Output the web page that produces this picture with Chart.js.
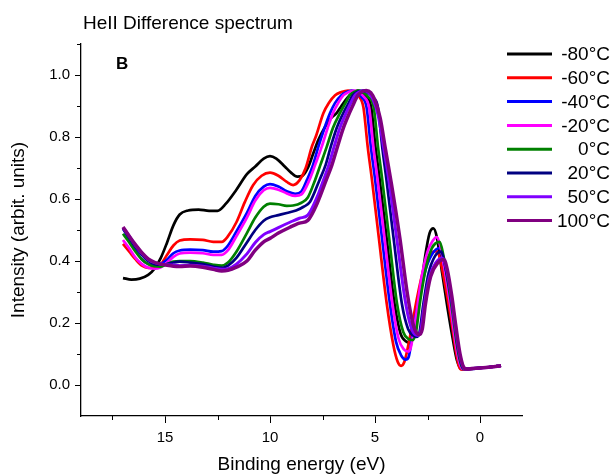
<!DOCTYPE html>
<html>
<head>
<meta charset="utf-8">
<script src="https://cdn.jsdelivr.net/npm/chart.js@4.4.1/dist/chart.umd.min.js"></script>
<style>
  html, body { margin: 0; padding: 0; background: #fff; }
</style>
</head>
<body>
<canvas id="spectrum" width="612" height="476"></canvas>
<script>
// temperatures shown in the legend (right aligned)
const seriesLabels = ['-80°C', '-60°C', '-40°C', '-20°C', '0°C', '20°C', '50°C', '100°C'];
const seriesColors = ['#000000', '#ff0000', '#0000ff', '#ff00ff', '#008000', '#000080', '#8000ff', '#800080'];

const xTicks = [15, 10, 5, 0];
const xMinorTicks = [17.5, 12.5, 7.5, 2.5];
const yTicks = [0, 0.2, 0.4, 0.6, 0.8, 1.0];
const yMinorTicks = [0.1, 0.3, 0.5, 0.7, 0.9, 1.1];

// [binding energy (eV), intensity]
const m80 = [[17.0,0.345],[16.6,0.34],[16.2,0.343],[15.8,0.355],[15.5,0.375],[15.2,0.41],[14.9,0.46],[14.6,0.515],[14.3,0.55],[13.9,0.563],[13.4,0.566],[12.9,0.562],[12.5,0.562],[12.1,0.585],[11.6,0.63],[11.1,0.68],[10.7,0.705],[10.3,0.73],[10.0,0.738],[9.7,0.73],[9.3,0.705],[9.0,0.685],[8.7,0.672],[8.45,0.675],[8.2,0.7],[7.95,0.745],[7.7,0.79],[7.4,0.83],[7.1,0.86],[6.83,0.877],[6.6,0.9],[6.3,0.928],[6.05,0.943],[5.82,0.95],[5.6,0.943],[5.43,0.93],[5.18,0.895],[4.98,0.77],[4.78,0.665],[4.45,0.476],[4.07,0.262],[3.78,0.165],[3.5,0.14],[3.35,0.137],[3.2,0.15],[3.0,0.23],[2.86,0.29],[2.6,0.42],[2.4,0.49],[2.22,0.505],[2.05,0.475],[1.8,0.36],[1.55,0.25],[1.3,0.15],[1.1,0.08],[0.95,0.055],[0.8,0.05],[0.4,0.052],[0.0,0.055],[-0.5,0.058],[-1.0,0.062]];
const m60 = [[17.0,0.455],[16.7,0.43],[16.4,0.405],[16.1,0.385],[15.8,0.378],[15.5,0.38],[15.2,0.39],[14.9,0.42],[14.6,0.45],[14.3,0.466],[13.8,0.47],[13.2,0.468],[12.7,0.462],[12.3,0.462],[12.0,0.48],[11.6,0.525],[11.2,0.59],[10.8,0.645],[10.4,0.675],[10.0,0.685],[9.6,0.675],[9.2,0.655],[8.9,0.645],[8.6,0.66],[8.3,0.7],[8.0,0.77],[7.8,0.805],[7.46,0.877],[7.2,0.91],[6.9,0.935],[6.6,0.945],[6.28,0.95],[5.97,0.945],[5.75,0.93],[5.55,0.895],[5.35,0.77],[5.15,0.665],[4.82,0.476],[4.44,0.262],[4.13,0.13],[3.92,0.075],[3.76,0.062],[3.6,0.075],[3.35,0.15],[3.0,0.28],[2.7,0.37],[2.4,0.42],[2.05,0.432],[1.85,0.39],[1.6,0.3],[1.35,0.2],[1.15,0.11],[1.0,0.06],[0.9,0.05],[0.4,0.052],[0.0,0.055],[-0.5,0.058],[-1.0,0.062]];
const m40 = [[17.0,0.505],[16.7,0.47],[16.4,0.435],[16.1,0.405],[15.8,0.39],[15.5,0.385],[15.2,0.39],[14.9,0.405],[14.6,0.425],[14.3,0.434],[13.8,0.437],[13.2,0.435],[12.7,0.43],[12.3,0.432],[12.0,0.45],[11.6,0.495],[11.1,0.555],[10.7,0.61],[10.3,0.64],[10.0,0.648],[9.6,0.64],[9.2,0.625],[8.8,0.617],[8.5,0.625],[8.25,0.66],[7.95,0.71],[7.7,0.768],[7.4,0.83],[7.14,0.877],[6.9,0.91],[6.6,0.935],[6.35,0.945],[6.1,0.95],[5.85,0.943],[5.65,0.93],[5.4,0.895],[5.2,0.77],[5.0,0.665],[4.67,0.476],[4.29,0.262],[4.0,0.14],[3.75,0.095],[3.55,0.082],[3.4,0.09],[3.2,0.17],[2.9,0.28],[2.6,0.37],[2.3,0.42],[1.92,0.442],[1.72,0.39],[1.45,0.28],[1.2,0.16],[1.0,0.08],[0.85,0.052],[0.4,0.052],[0.0,0.055],[-0.5,0.058],[-1.0,0.062]];
const m20 = [[17.0,0.468],[16.7,0.44],[16.4,0.41],[16.1,0.39],[15.8,0.378],[15.5,0.375],[15.2,0.38],[14.9,0.395],[14.6,0.413],[14.3,0.424],[13.8,0.427],[13.2,0.425],[12.7,0.42],[12.3,0.42],[12.0,0.435],[11.6,0.48],[11.1,0.54],[10.7,0.595],[10.3,0.628],[10.0,0.636],[9.6,0.63],[9.2,0.618],[8.8,0.61],[8.5,0.615],[8.13,0.66],[7.85,0.71],[7.54,0.768],[7.25,0.83],[7.0,0.877],[6.75,0.91],[6.5,0.935],[6.25,0.945],[6.0,0.95],[5.75,0.943],[5.53,0.93],[5.28,0.895],[5.08,0.77],[4.88,0.665],[4.55,0.476],[4.17,0.262],[3.88,0.15],[3.62,0.115],[3.43,0.108],[3.3,0.12],[3.05,0.22],[2.8,0.34],[2.5,0.43],[2.25,0.465],[2.06,0.477],[1.9,0.45],[1.65,0.36],[1.4,0.25],[1.15,0.13],[0.95,0.065],[0.8,0.052],[0.4,0.053],[0.0,0.055],[-0.5,0.058],[-1.0,0.062]];
const p0 = [[17.0,0.488],[16.7,0.46],[16.4,0.43],[16.1,0.405],[15.8,0.39],[15.5,0.383],[15.2,0.382],[14.9,0.39],[14.6,0.398],[14.3,0.40],[13.8,0.40],[13.2,0.395],[12.7,0.388],[12.3,0.385],[12.0,0.395],[11.6,0.43],[11.1,0.49],[10.7,0.54],[10.3,0.575],[10.0,0.585],[9.6,0.583],[9.2,0.578],[8.9,0.579],[8.5,0.588],[8.2,0.605],[7.86,0.66],[7.6,0.71],[7.3,0.768],[7.0,0.83],[6.67,0.877],[6.4,0.91],[6.2,0.935],[6.0,0.945],[5.78,0.95],[5.55,0.943],[5.33,0.93],[5.06,0.895],[4.86,0.77],[4.66,0.665],[4.33,0.476],[3.95,0.262],[3.65,0.17],[3.4,0.148],[3.2,0.145],[3.05,0.17],[2.85,0.27],[2.6,0.37],[2.3,0.44],[2.1,0.458],[1.92,0.462],[1.75,0.42],[1.5,0.32],[1.3,0.23],[1.1,0.13],[0.9,0.065],[0.75,0.052],[0.4,0.053],[0.0,0.055],[-0.5,0.058],[-1.0,0.062]];
const p20 = [[17.0,0.505],[16.7,0.475],[16.4,0.445],[16.1,0.42],[15.8,0.40],[15.5,0.39],[15.2,0.388],[14.9,0.39],[14.6,0.395],[14.3,0.398],[13.8,0.395],[13.2,0.39],[12.7,0.382],[12.3,0.378],[12.0,0.385],[11.6,0.41],[11.1,0.46],[10.7,0.5],[10.3,0.53],[10.0,0.541],[9.6,0.548],[9.2,0.555],[8.76,0.563],[8.4,0.575],[8.1,0.59],[7.65,0.66],[7.35,0.71],[7.11,0.768],[6.82,0.83],[6.51,0.877],[6.25,0.91],[6.05,0.935],[5.85,0.945],[5.6,0.95],[5.35,0.943],[5.13,0.93],[4.86,0.895],[4.66,0.77],[4.46,0.665],[4.12,0.476],[3.72,0.262],[3.42,0.18],[3.15,0.158],[3.0,0.155],[2.88,0.17],[2.7,0.26],[2.45,0.36],[2.15,0.415],[1.84,0.43],[1.68,0.39],[1.45,0.31],[1.25,0.22],[1.05,0.12],[0.85,0.06],[0.7,0.052],[0.4,0.053],[0.0,0.055],[-0.5,0.058],[-1.0,0.062]];
const p50 = [[17.0,0.508],[16.7,0.48],[16.4,0.45],[16.1,0.425],[15.8,0.405],[15.5,0.395],[15.2,0.39],[14.9,0.388],[14.6,0.387],[14.3,0.385],[13.8,0.386],[13.2,0.383],[12.7,0.377],[12.3,0.373],[12.0,0.375],[11.6,0.39],[11.1,0.423],[10.7,0.46],[10.3,0.485],[10.0,0.495],[9.6,0.508],[9.05,0.525],[8.6,0.538],[8.2,0.548],[7.76,0.606],[7.46,0.66],[7.2,0.71],[6.95,0.768],[6.67,0.83],[6.38,0.877],[6.15,0.91],[5.95,0.935],[5.75,0.945],[5.52,0.95],[5.3,0.943],[5.1,0.922],[4.85,0.87],[4.6,0.77],[4.35,0.665],[3.97,0.476],[3.58,0.28],[3.3,0.19],[3.1,0.163],[2.95,0.16],[2.82,0.175],[2.65,0.26],[2.4,0.35],[2.1,0.395],[1.8,0.41],[1.62,0.38],[1.4,0.3],[1.2,0.2],[1.0,0.11],[0.8,0.058],[0.68,0.052],[0.4,0.053],[0.0,0.055],[-0.5,0.058],[-1.0,0.062]];
const p100 = [[17.0,0.51],[16.7,0.48],[16.4,0.452],[16.1,0.427],[15.8,0.407],[15.5,0.396],[15.2,0.39],[14.9,0.386],[14.6,0.383],[14.3,0.382],[13.8,0.384],[13.2,0.38],[12.7,0.373],[12.3,0.368],[12.0,0.37],[11.6,0.38],[11.1,0.4],[10.7,0.435],[10.3,0.462],[10.0,0.473],[9.6,0.49],[9.05,0.509],[8.6,0.522],[8.2,0.531],[7.76,0.585],[7.33,0.66],[7.05,0.71],[6.79,0.768],[6.5,0.83],[6.22,0.877],[6.0,0.91],[5.82,0.935],[5.65,0.945],[5.42,0.95],[5.2,0.943],[5.0,0.918],[4.75,0.86],[4.5,0.76],[4.22,0.65],[3.82,0.476],[3.45,0.29],[3.2,0.2],[3.0,0.166],[2.88,0.163],[2.75,0.18],[2.6,0.26],[2.35,0.35],[2.0,0.395],[1.72,0.405],[1.55,0.37],[1.35,0.29],[1.15,0.19],[0.95,0.1],[0.75,0.055],[0.62,0.052],[0.4,0.053],[0.0,0.055],[-0.5,0.058],[-1.0,0.062]];

const seriesData = [m80, m60, m40, m20, p0, p20, p50, p100];
const lineWidths = [2.7, 2.7, 2.7, 2.7, 2.7, 2.7, 3, 3.5];

const FONT = "'Liberation Sans', Arial, sans-serif";

// title, panel letter, legend and minor ticks
const decorations = {
    id: 'decorations',
    afterDraw(chart) {
        const { ctx, scales: { x, y } } = chart;
        ctx.save();
        ctx.fillStyle = '#000';
        ctx.textBaseline = 'alphabetic';
        ctx.textAlign = 'left';
        ctx.font = `19px ${FONT}`;
        ctx.fillText('HeII Difference spectrum', 83, 29);
        ctx.font = `bold 17px ${FONT}`;
        ctx.fillText('B', 116, 69);

        // minor ticks
        ctx.strokeStyle = '#000';
        ctx.lineWidth = 1;
        ctx.beginPath();
        xMinorTicks.forEach((v) => {
            const px = Math.round(x.getPixelForValue(v)) + 0.5;
            ctx.moveTo(px, x.top);
            ctx.lineTo(px, x.top + 4);
        });
        yMinorTicks.forEach((v) => {
            const py = Math.round(y.getPixelForValue(v)) + 0.5;
            ctx.moveTo(y.right, py);
            ctx.lineTo(y.right - 4, py);
        });
        ctx.stroke();

        // legend
        ctx.font = `19px ${FONT}`;
        ctx.textAlign = 'right';
        ctx.textBaseline = 'middle';
        seriesLabels.forEach((label, i) => {
            const cy = 54 + i * 23.8;
            ctx.strokeStyle = seriesColors[i];
            ctx.lineWidth = 3;
            ctx.beginPath();
            ctx.moveTo(507, cy);
            ctx.lineTo(552, cy);
            ctx.stroke();
            ctx.fillText(label, 610, cy + 1);
        });
        ctx.restore();
    }
};

new Chart(document.getElementById('spectrum'), {
    type: 'line',
    data: {
        datasets: seriesData.map((points, i) => ({
            label: seriesLabels[i],
            data: points.map(([e, v]) => ({ x: e, y: v })),
            borderColor: seriesColors[i],
            borderWidth: lineWidths[i],
            pointRadius: 0,
            fill: false,
            cubicInterpolationMode: 'monotone',
            order: seriesData.length - i
        }))
    },
    options: {
        responsive: false,
        animation: false,
        layout: { padding: { left: 0, top: 44, right: 90, bottom: 0 } },
        plugins: {
            legend: { display: false },
            tooltip: { enabled: false }
        },
        scales: {
            x: {
                type: 'linear',
                min: -2,
                max: 19,
                reverse: true,
                afterFit: (scale) => { scale.height = 60; },
                afterBuildTicks: (scale) => { scale.ticks = xTicks.map((v) => ({ value: v })); },
                ticks: {
                    color: '#000',
                    padding: 6,
                    font: { family: FONT, size: 15 },
                    callback: (v) => String(v)
                },
                grid: { drawOnChartArea: false, tickLength: 7, tickColor: '#000' },
                border: { display: true, color: '#000', width: 1.3 },
                title: {
                    display: true,
                    text: 'Binding energy (eV)',
                    color: '#000',
                    font: { family: FONT, size: 19, lineHeight: 1.2 },
                    padding: { top: 0, bottom: 0 }
                }
            },
            y: {
                type: 'linear',
                min: -0.1,
                max: 1.1,
                afterFit: (scale) => { scale.width = 81; },
                afterBuildTicks: (scale) => { scale.ticks = yTicks.map((v) => ({ value: v })); },
                ticks: {
                    color: '#000',
                    padding: 5,
                    font: { family: FONT, size: 15 },
                    callback: (v) => Number(v).toFixed(1)
                },
                grid: { drawOnChartArea: false, tickLength: 6, tickColor: '#000' },
                border: { display: true, color: '#000', width: 1.3 },
                title: {
                    display: true,
                    text: 'Intensity (arbit. units)',
                    color: '#000',
                    font: { family: FONT, size: 19, lineHeight: 1.2 },
                    padding: { top: 7, bottom: 0 }
                }
            }
        }
    },
    plugins: [decorations]
});
</script>
</body>
</html>
